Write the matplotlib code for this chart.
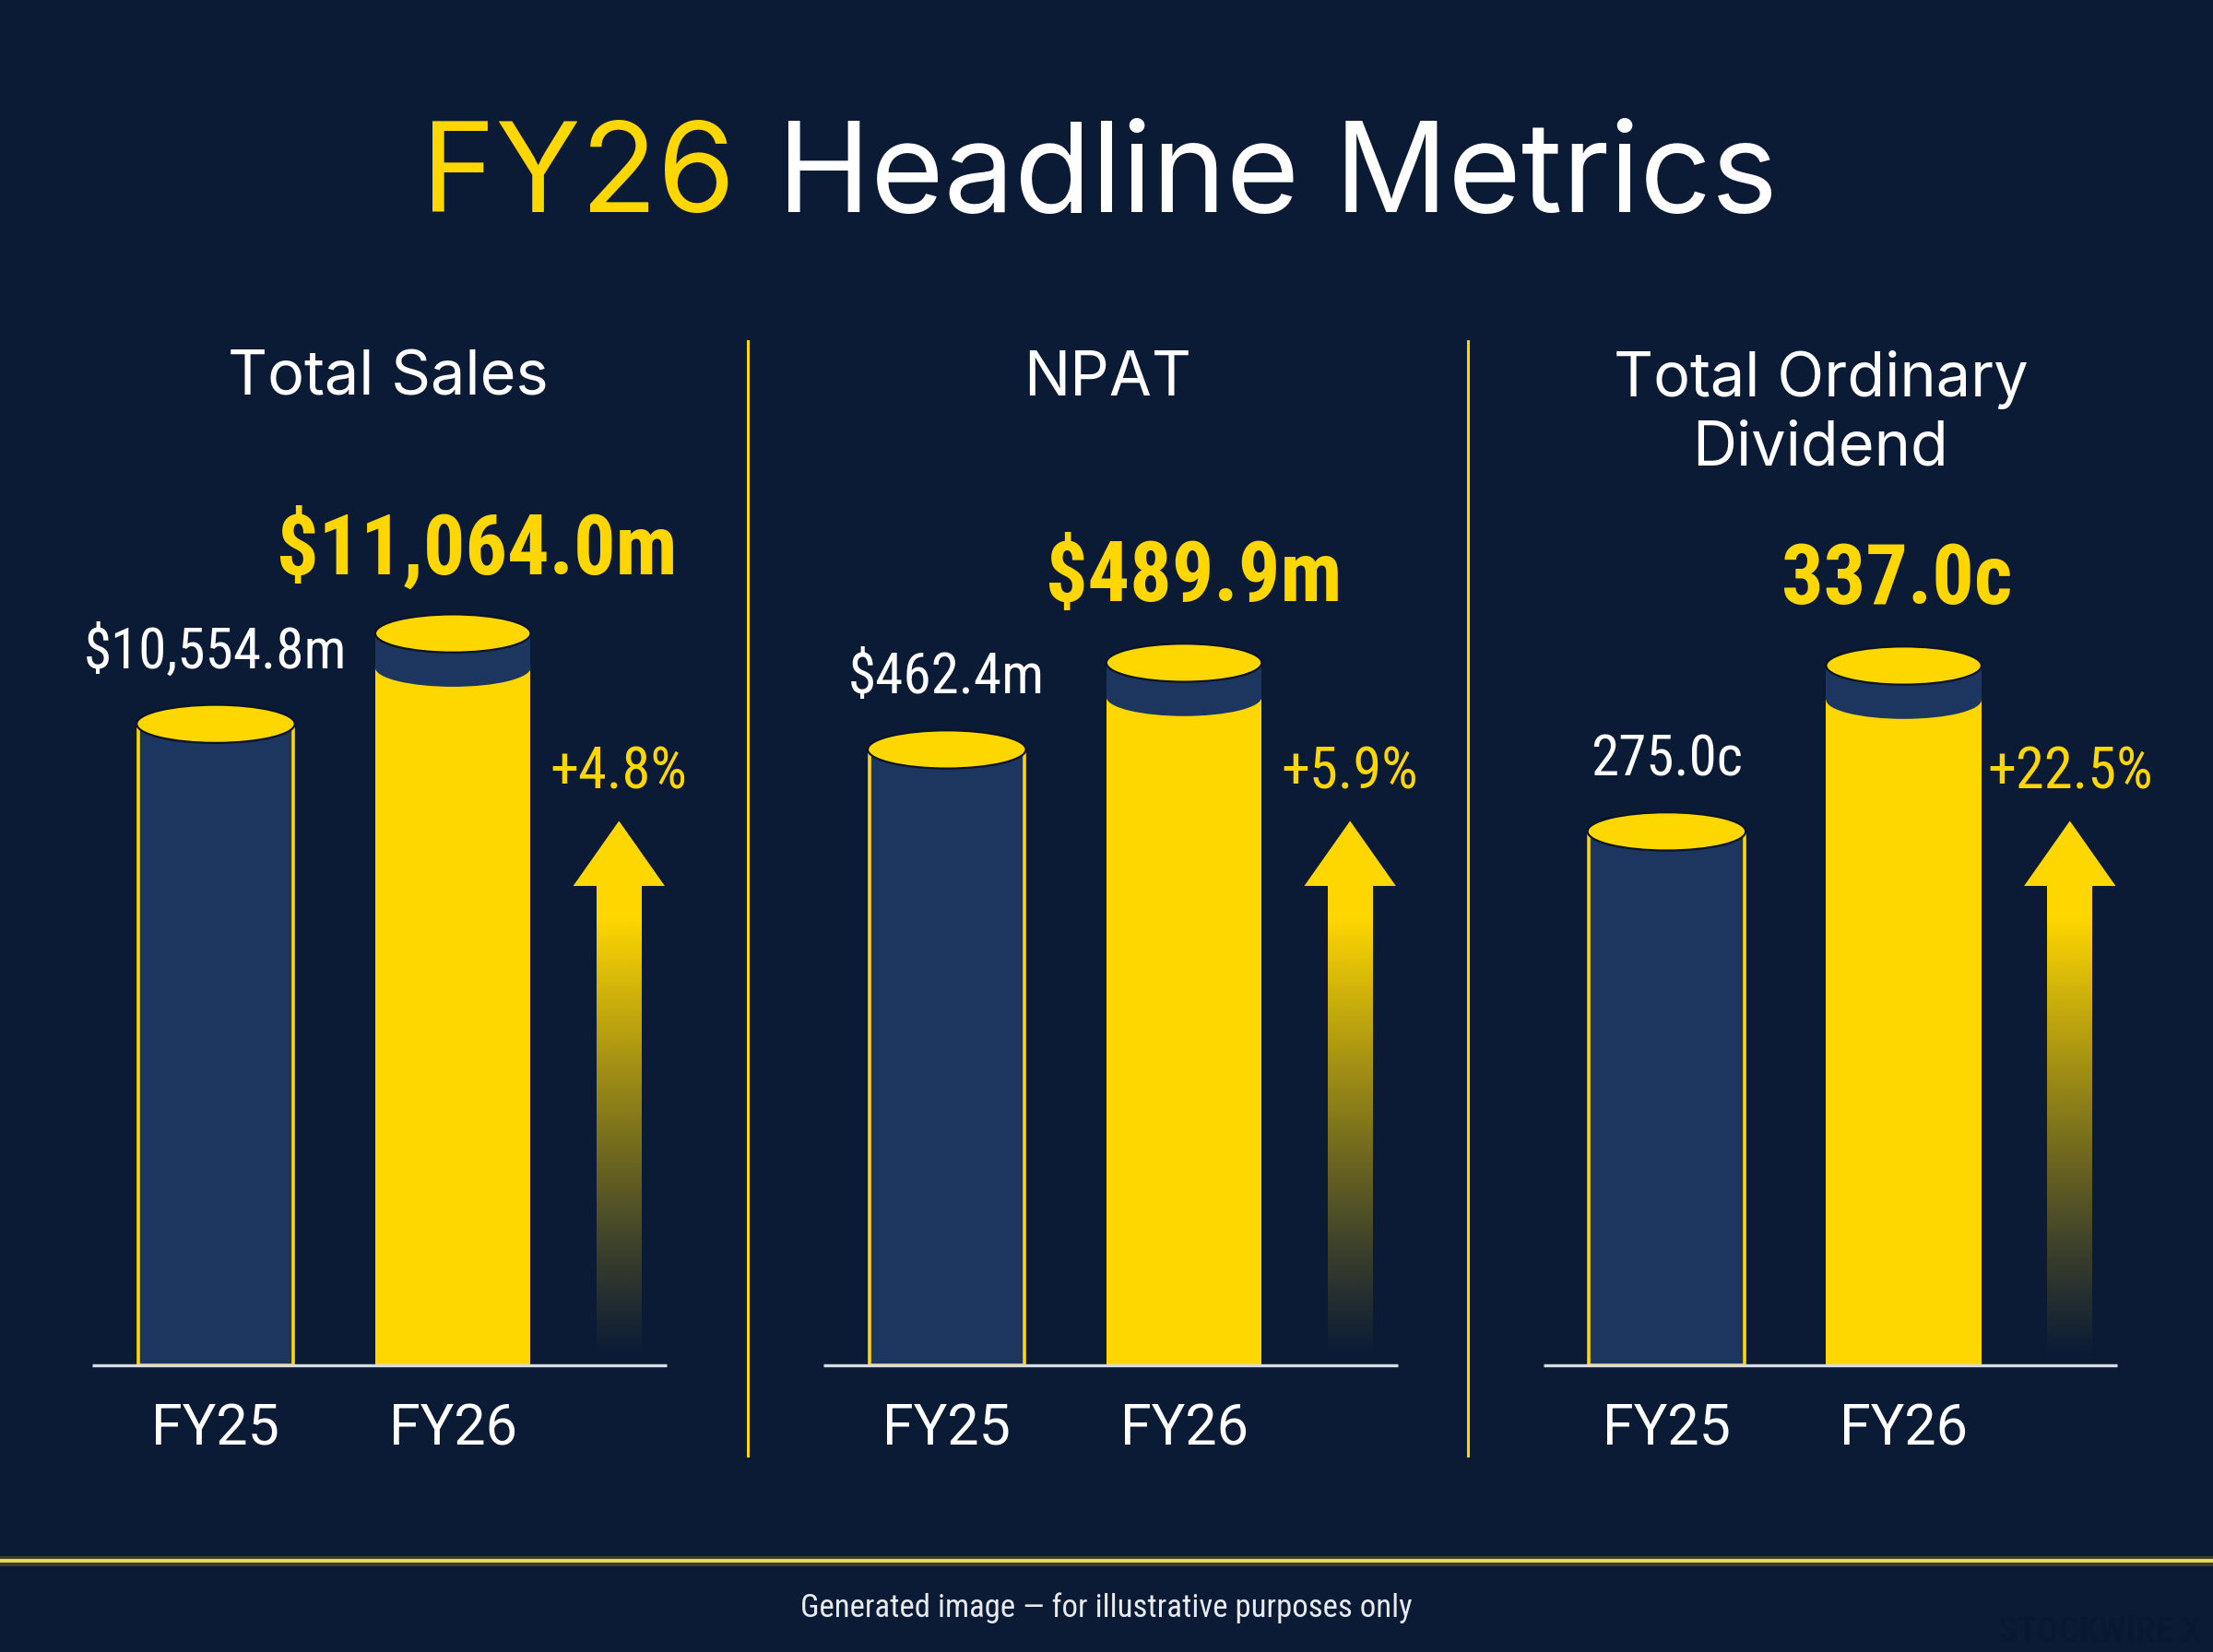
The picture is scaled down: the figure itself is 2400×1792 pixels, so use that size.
import numpy as np
import matplotlib.pyplot as plt
from matplotlib.patches import Ellipse, Rectangle, Polygon
from matplotlib.lines import Line2D

# ---- data ----
panel_titles = ["Total Sales", "NPAT", "Total Ordinary\nDividend"]
periods = ["FY25", "FY26"]
fy25_values = [10554.8, 462.4, 275.0]
fy26_values = [11064.0, 489.9, 337.0]
fy25_labels = ["$10,554.8m", "$462.4m", "275.0c"]
fy26_labels = ["$11,064.0m", "$489.9m", "337.0c"]
change_labels = ["+4.8%", "+5.9%", "+22.5%"]

# truncated value windows per panel (axis floor, axis top)
y_windows = [(6943.0, 12247.0), (266.9, 565.9), (75.3, 427.6)]

# ---- style ----
BG = '#0b1b36'
NAVY = '#1c365f'
YELLOW = '#ffd700'
WHITE = '#ffffff'
BASE = '#d8dce3'
EDGE = '#0a1426'

NARROW = ['Roboto Condensed', 'Liberation Sans Narrow', 'Roboto', 'DejaVu Sans']
SANS = ['Inter', 'DejaVu Sans']
ROBOTO = ['Roboto', 'DejaVu Sans']

W, H = 1568.0, 1171.0   # layout measured on a 1568 wide grid


def fx(x):
    return x / W


def fy(y):
    return 1 - y / H


fig = plt.figure(figsize=(12, 8.96), dpi=200)
fig.patch.set_facecolor(BG)

# title in two colours
fig.text(fx(521), fy(127), "FY26", color=YELLOW, fontsize=49, family=SANS,
         ha='right', va='center')
fig.text(fx(551), fy(127), "Headline Metrics", color=WHITE, fontsize=49,
         family=SANS, ha='left', va='center')

fy25_centers = [153, 671, 1181]
title_centers = [275, 785, 1290]
fy26_label_x = [1.1, 1.04, 0.97]
xlo, xhi = -0.6, 2.0
bar_w = 0.655
arrow_x = 1.70

for i in range(3):
    left = fy25_centers[i] - 101
    ax = fig.add_axes([fx(left), fy(968), fx(437), 668 / H])
    ax.set_facecolor('none')
    lo, hi = y_windows[i]
    span = hi - lo
    eh = 27.0 / 668 * span   # ellipse height in data units

    def yf(f):
        return lo + f * span

    v25, v26 = fy25_values[i], fy26_values[i]

    # FY25 cylinder
    ax.bar(0, v25 - lo, bottom=lo, width=bar_w, color=NAVY,
           edgecolor=YELLOW, linewidth=1.3, zorder=2)
    ax.add_patch(Ellipse((0, v25), bar_w + 0.012, eh, facecolor=YELLOW,
                         edgecolor=EDGE, linewidth=0.8, zorder=4))

    # FY26 cylinder with navy band under the lid
    ax.bar(1, v26 - lo, bottom=lo, width=bar_w, color=YELLOW,
           edgecolor='none', zorder=2)
    band = 0.9 * eh
    ax.add_patch(Rectangle((1 - bar_w / 2, v26 - band), bar_w, band,
                           facecolor=NAVY, edgecolor='none', zorder=3))
    ax.add_patch(Ellipse((1, v26 - band), bar_w, eh, facecolor=NAVY,
                         edgecolor='none', zorder=3))
    ax.add_patch(Ellipse((1, v26), bar_w, eh, facecolor=YELLOW,
                         edgecolor=EDGE, linewidth=0.8, zorder=4))

    # value labels
    ax.annotate(fy25_labels[i], (0, v25), xytext=(0, 28),
                textcoords='offset points', ha='center', va='center',
                color=WHITE, fontsize=22, family=NARROW)
    ax.annotate(fy26_labels[i], (fy26_label_x[i], v26),
                xytext=(0, 33), textcoords='offset points', ha='center',
                va='center', color=YELLOW, fontsize=32.5, fontweight='bold',
                family=NARROW)

    # baseline and period labels
    ax.hlines(lo, -0.52, 1.9, color=BASE, linewidth=1.2, zorder=5,
              clip_on=False)
    for j, p in enumerate(periods):
        ax.annotate(p, (j, lo), xytext=(0, -25), textcoords='offset points',
                    ha='center', va='center', color=WHITE, fontsize=22,
                    family=ROBOTO)

    # growth arrow: solid head, fading shaft
    shaft_hw = 0.095
    head_hw = 0.193
    tip, head_base, shaft_bot = yf(0.578), yf(0.509), yf(0.005)
    ax.add_patch(Polygon([[arrow_x - head_hw, head_base],
                          [arrow_x, tip],
                          [arrow_x + head_hw, head_base]],
                         closed=True, facecolor=YELLOW, edgecolor='none',
                         zorder=3))
    n = 256
    t = np.linspace(0, 1, n)
    alpha = np.clip(t * 1.08, 0, 1) ** 1.15
    grad = np.zeros((n, 1, 4))
    grad[:, 0, 0] = 1.0
    grad[:, 0, 1] = 215 / 255
    grad[:, 0, 2] = 0.0
    grad[:, 0, 3] = alpha
    ax.imshow(grad, extent=[arrow_x - shaft_hw, arrow_x + shaft_hw,
                            shaft_bot, head_base + 0.002 * span],
              origin='lower', aspect='auto', zorder=3, interpolation='bilinear')
    ax.text(arrow_x, yf(0.629), change_labels[i], ha='center', va='center',
            color=YELLOW, fontsize=22.5, family=NARROW)

    ax.set_xlim(xlo, xhi)
    ax.set_ylim(lo, hi)
    ax.axis('off')

    # panel title
    fig.text(fx(title_centers[i]), fy(248), panel_titles[i], ha='center',
             va='top', color=WHITE, fontsize=24, family=SANS,
             linespacing=1.25)

# dividers
for xd in [530, 1040]:
    fig.add_artist(Line2D([fx(xd), fx(xd)], [fy(242), fy(1032)],
                          color=YELLOW, linewidth=1.1))

# footer rule with soft glow
fig.add_artist(Line2D([0, 1], [fy(1106), fy(1106)], color=YELLOW,
                      linewidth=4, alpha=0.2))
fig.add_artist(Line2D([0, 1], [fy(1106), fy(1106)], color='#f2dc4a',
                      linewidth=1.4))

fig.text(0.5, fy(1140), "Generated image \u2014 for illustrative purposes only",
         ha='center', va='center', color='#e8eaee', fontsize=12.5,
         family=NARROW)
fig.text(fx(1560), fy(1157), "STOCKWIRE X", ha='right', va='center',
         color='#091830', fontsize=14, fontweight='bold', family=NARROW)

fig.savefig('out.png', dpi=200, facecolor=BG)
